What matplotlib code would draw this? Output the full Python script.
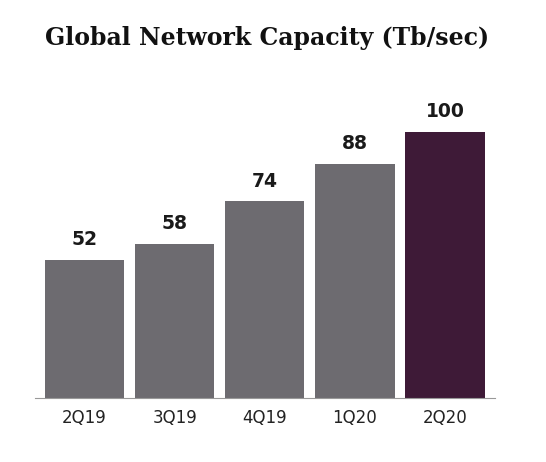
import matplotlib
matplotlib.use("Agg")
import matplotlib.pyplot as plt

categories = ["2Q19", "3Q19", "4Q19", "1Q20", "2Q20"]
values = [52, 58, 74, 88, 100]
colors = ["#6d6b70", "#6d6b70", "#6d6b70", "#6d6b70", "#3e1a37"]

fig = plt.figure(figsize=(5.46, 4.62), dpi=100)
ax = fig.add_axes([0.064, 0.1385, 0.842, 0.6909])
ax.bar(range(len(values)), values, width=0.88, color=colors)
for i, v in enumerate(values):
    ax.text(i, v + 4, str(v), ha="center", va="bottom", fontsize=13.5, fontweight="bold", color="#1a1a1a")
ax.set_xlim(-0.55, 4.55)
ax.set_ylim(0, 120)
ax.set_xticks(range(len(values)))
ax.set_xticklabels(categories, fontsize=12, color="#222222")
ax.tick_params(axis="x", length=0, pad=8)
ax.set_yticks([])
for s in ["top", "right", "left"]:
    ax.spines[s].set_visible(False)
ax.spines["bottom"].set_color("#999999")
fig.text(0.49, 0.918, "Global Network Capacity (Tb/sec)", ha="center", va="center",
         fontsize=17, fontweight="heavy", family="DejaVu Serif", color="#111111")
fig.savefig("out.png", dpi=100)
